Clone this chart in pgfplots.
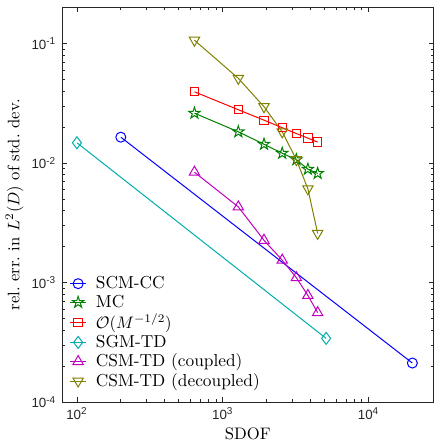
\documentclass[border=0pt]{standalone}
\usepackage{pgfplots}
\pgfplotsset{compat=1.18}
\usepackage{fontspec}
\newfontfamily\ticksf{Liberation Sans}
\usetikzlibrary{calc}
\definecolor{axgray}{rgb}{0.15,0.15,0.15}
\definecolor{mblue}{rgb}{0,0,1}
\definecolor{mgreen}{rgb}{0,0.5,0}
\definecolor{mred}{rgb}{1,0,0}
\definecolor{mcyan}{rgb}{0,0.68,0.68}
\definecolor{mmag}{rgb}{0.75,0,0.75}
\definecolor{molive}{rgb}{0.5,0.5,0}
\pgfdeclareplotmark{pentastar}{%
 \pgfpathmoveto{\pgfpointpolar{90}{\pgfplotmarksize}}%
 \pgfpathlineto{\pgfpointpolar{126}{0.382\pgfplotmarksize}}%
 \pgfpathlineto{\pgfpointpolar{162}{\pgfplotmarksize}}%
 \pgfpathlineto{\pgfpointpolar{198}{0.382\pgfplotmarksize}}%
 \pgfpathlineto{\pgfpointpolar{234}{\pgfplotmarksize}}%
 \pgfpathlineto{\pgfpointpolar{270}{0.382\pgfplotmarksize}}%
 \pgfpathlineto{\pgfpointpolar{306}{\pgfplotmarksize}}%
 \pgfpathlineto{\pgfpointpolar{342}{0.382\pgfplotmarksize}}%
 \pgfpathlineto{\pgfpointpolar{18}{\pgfplotmarksize}}%
 \pgfpathlineto{\pgfpointpolar{54}{0.382\pgfplotmarksize}}%
 \pgfpathclose\pgfusepathqstroke}
\begin{document}
\begin{tikzpicture}
\begin{axis}[
  xmode=log, ymode=log,
  scale only axis, width=223pt, height=237pt,
  xmin=79, xmax=28000, ymin=1e-4, ymax=0.203,
  xtick={100,1000,10000},
  xticklabels={{\ticksf 10\textsuperscript{2}},{\ticksf 10\textsuperscript{3}},{\ticksf 10\textsuperscript{4}}},
  ytick={0.0001,0.001,0.01,0.1},
  yticklabels={{\ticksf 10\textsuperscript{-4}},{\ticksf 10\textsuperscript{-3}},{\ticksf 10\textsuperscript{-2}},{\ticksf 10\textsuperscript{-1}}},
  tick label style={font=\fontsize{8}{9}\selectfont, text=axgray},
  tick align=inside,
  axis line style={axgray, line width=0.5pt},
  tick style={axgray, line width=0.4pt},
  major tick length=3pt, minor tick length=1.8pt,
  xlabel={SDOF},
  ylabel={rel.\ err.\ in $L^2(D)$ of std.\ dev.},
  xlabel style={yshift=2pt},
  ylabel style={yshift=-2pt},
  legend style={at={(0.015,0.02)}, anchor=south west, draw=none, fill=none,
    font=\fontsize{10.4}{12}\selectfont, row sep=-1.6pt, column sep=3.5pt, inner sep=1pt},
  legend cell align=left,
  legend image code/.code={\draw[mark repeat=2,mark phase=2] plot coordinates {(0cm,0cm) (0.17cm,0cm) (0.34cm,0cm)};},
  every axis plot/.append style={line width=0.6pt},
]
\addplot[mblue, mark=o, mark size=3pt] coordinates {(200,0.0165) (20000,2.12e-4)};
\addlegendentry{SCM-CC}
\addplot[mgreen, mark=pentastar, mark size=3.6pt, mark options={line width=0.6pt}] coordinates {
 (640,0.0262) (1280,0.0183) (1920,0.0144) (2560,0.0121) (3200,0.0107) (3840,0.0089) (4480,0.0082)};
\addlegendentry{MC}
\addplot[mred, mark=square, mark size=2.5pt] coordinates {
 (640,0.0396) (1280,0.0280) (1920,0.0229) (2560,0.0198) (3200,0.0177) (3840,0.0162) (4480,0.0150)};
\addlegendentry{$\mathcal{O}(M^{-1/2})$}
\addplot[mcyan, mark=diamond, mark size=3.6pt] coordinates {(100,0.0148) (5120,3.41e-4)};
\addlegendentry{SGM-TD}
\addplot[mmag, mark=triangle, mark size=3.6pt] coordinates {
 (640,0.0084) (1280,0.0043) (1920,0.00226) (2560,0.00154) (3200,0.0011) (3840,7.8e-4) (4480,5.6e-4)};
\addlegendentry{CSM-TD (coupled)}
\addplot[molive, mark=triangle, mark size=3.6pt, mark options={rotate=180}] coordinates {
 (640,0.107) (1280,0.0513) (1920,0.0297) (2560,0.0183) (3200,0.0107) (3840,0.0061) (4480,0.00258)};
\addlegendentry{CSM-TD (decoupled)}
\end{axis}
\pgfresetboundingbox
\path ($(current axis.south west)+(-37.2pt,-24pt)$) rectangle ($(current axis.north east)+(0.6pt,4.2pt)$);
\end{tikzpicture}
\end{document}
